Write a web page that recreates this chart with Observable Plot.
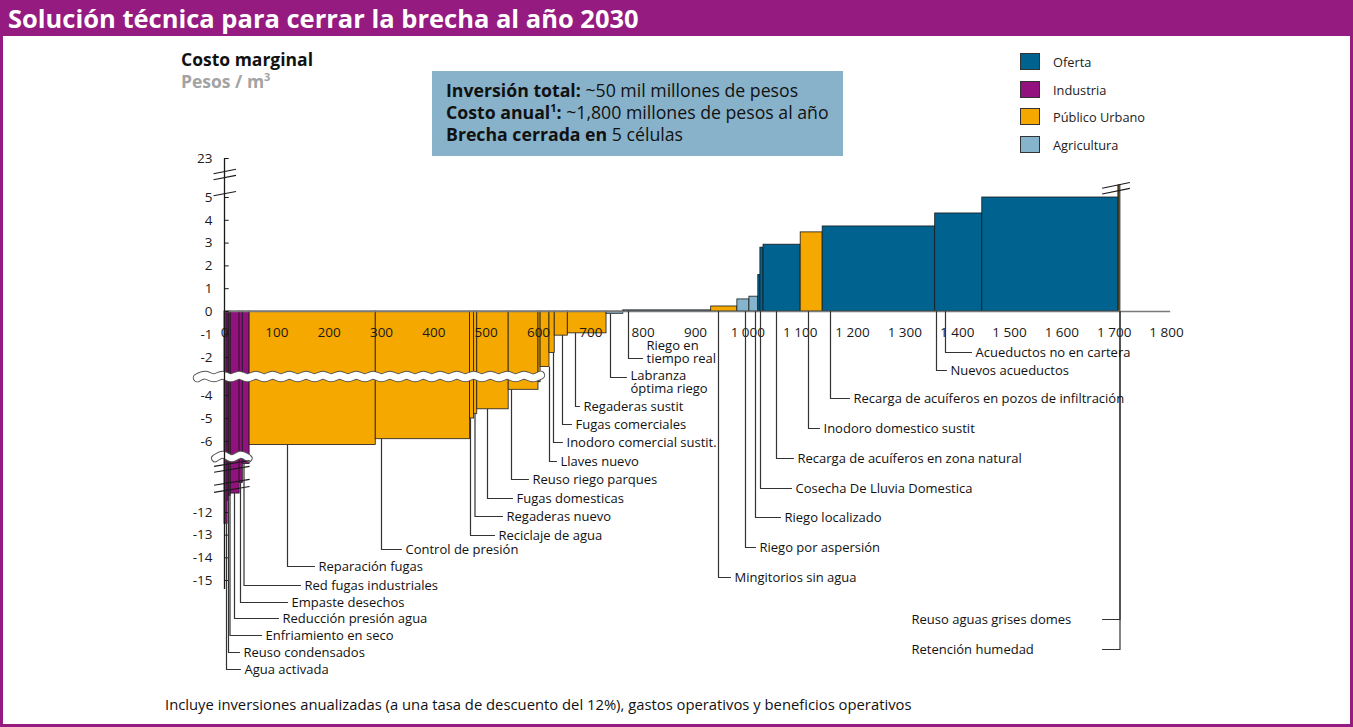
<!DOCTYPE html>
<html><head><meta charset="utf-8">
<script src="https://cdn.jsdelivr.net/npm/d3@7"></script>
<script src="https://cdn.jsdelivr.net/npm/@observablehq/plot@0.6"></script>
<style>
body{margin:0;background:#fff;font-family:"Open Sans","Noto Sans",sans-serif;}
#wrap{position:relative;width:1353px;height:727px;overflow:hidden;background:#fff;}
#frame{position:absolute;left:0;top:0;width:1353px;height:727px;box-sizing:border-box;border:3px solid #951B81;pointer-events:none;}
#title{position:absolute;left:0;top:0;width:1353px;height:36px;background:#951B81;color:#fff;font-weight:700;font-size:25.5px;line-height:36px;padding-left:8px;box-sizing:border-box;}
#plot{position:absolute;left:0;top:0;}
.t{position:absolute;white-space:nowrap;}
#info{position:absolute;left:432px;top:71px;width:411px;height:85px;background:#87B2CA;box-sizing:border-box;padding:8px 0 0 14px;font-size:17.7px;line-height:22px;color:#111;}
.lg{position:absolute;left:1020px;width:20px;height:17px;box-sizing:border-box;border:1px solid #333;}
.lgt{position:absolute;left:1053px;font-size:12.8px;color:#222;line-height:16px;}
</style></head>
<body><div id="wrap">
<div id="plot"></div>
<div id="title">Solución técnica para cerrar la brecha al año 2030</div>
<div class="t" style="left:181px;top:47px;font-size:17.5px;font-weight:700;color:#111;">Costo marginal</div>
<div class="t" style="left:181px;top:69px;font-size:17.5px;font-weight:700;color:#A3A3A3;">Pesos / m<sup style="font-size:11px;vertical-align:7px;">3</sup></div>
<div id="info"><b>Inversión total:</b> ~50 mil millones de pesos<br><b>Costo anual<sup style="font-size:11px;vertical-align:7px;line-height:0">1</sup>:</b> ~1,800 millones de pesos al año<br><b>Brecha cerrada en</b> 5 células</div>
<div id="legend"></div>
<div class="t" style="left:165px;top:694px;font-size:14.8px;color:#111;">Incluye inversiones anualizadas (a una tasa de descuento del 12%), gastos operativos y beneficios operativos</div>
<div id="frame"></div>
</div>
<script>
// ---- data ----
const sectors = ["Oferta", "Industria", "Público Urbano", "Agricultura"];
const sectorColors = ["#00628F", "#93117E", "#F5A800", "#86B4CC"];

const measures = [
  "Agua activada", "Reuso condensados", "Enfriamiento en seco", "Reducción presión agua",
  "Empaste desechos", "Red fugas industriales", "Reparación fugas", "Control de presión",
  "Reciclaje de agua", "Regaderas nuevo", "Fugas domesticas", "Reuso riego parques",
  "Llaves nuevo (a)", "Llaves nuevo", "Inodoro comercial sustit.", "Fugas comerciales",
  "Regaderas sustit", "Labranza óptima riego", "Riego en tiempo real", "Mingitorios sin agua",
  "Riego por aspersión", "Riego localizado", "Cosecha De Lluvia Domestica (a)", "Cosecha De Lluvia Domestica",
  "Recarga de acuíferos en zona natural", "Inodoro domestico sustit",
  "Recarga de acuíferos en pozos de infiltración", "Nuevos acueductos", "Acueductos no en cartera",
  "Reuso aguas grises domes", "Retención humedad"
];
const measureSector = [
  "Industria", "Industria", "Industria", "Industria", "Industria", "Industria",
  "Público Urbano", "Público Urbano", "Público Urbano", "Público Urbano", "Público Urbano", "Público Urbano",
  "Público Urbano", "Público Urbano", "Público Urbano", "Público Urbano", "Público Urbano",
  "Agricultura", "Agricultura", "Público Urbano", "Agricultura", "Agricultura",
  "Oferta", "Oferta", "Oferta", "Público Urbano", "Oferta", "Oferta", "Oferta",
  "Público Urbano", "Agricultura"
];
// potential (horizontal width, millones de m3)
const volume = [6, 3, 3, 17, 6, 13, 241, 180, 8, 6, 60, 57, 4, 17, 10, 25, 74, 32, 168, 50, 23, 17, 4, 6, 71, 42, 215, 90, 260, 2, 2];
// marginal cost (pesos / m3)
const cost = [-12.5, -11.0, -10.6, -10.4, -9.5, -7.9, -6.3, -5.9, -5.0, -4.8, -4.6, -3.7, -3.3, -2.5, -1.8, -1.05, -0.95,
  -0.1, 0.05, 0.22, 0.53, 0.65, 1.6, 2.8, 2.93, 3.47, 3.73, 4.3, 5.0, 23, 23];

const xTicks = d3.range(0, 1801, 100);
const yTicks = [23, 5, 4, 3, 2, 1, 0, -1, -2, -4, -5, -6, -12, -13, -14, -15];

// ---- annotation layout (leader x px, row px, text start px, [text row px], [leader end px]) ----
const labelLayout = [
  ["Agua activada", "Agua activada", 226, 669, 244],
  ["Reuso condensados", "Reuso condensados", 228, 652, 243],
  ["Enfriamiento en seco", "Enfriamiento en seco", 229.5, 635, 265],
  ["Reducción presión agua", "Reducción presión agua", 234, 618, 282],
  ["Empaste desechos", "Empaste desechos", 240, 602, 291],
  ["Red fugas industriales", "Red fugas industriales", 243.5, 585, 304],
  ["Reparación fugas", "Reparación fugas", 287, 566, 318],
  ["Control de presión", "Control de presión", 381, 549, 405],
  ["Reciclaje de agua", "Reciclaje de agua", 470, 535, 498],
  ["Regaderas nuevo", "Regaderas nuevo", 474.5, 516, 506],
  ["Fugas domesticas", "Fugas domesticas", 487, 498, 516],
  ["Reuso riego parques", "Reuso riego parques", 511, 479, 532],
  ["Llaves nuevo", "Llaves nuevo", 549, 461, 560],
  ["Inodoro comercial sustit.", "Inodoro comercial sustit.", 553, 442, 566],
  ["Fugas comerciales", "Fugas comerciales", 562, 424, 575],
  ["Regaderas sustit", "Regaderas sustit", 575, 406, 583],
  ["Labranza óptima riego", "Labranza\nóptima riego", 610, 377, 630, 382],
  ["Riego en tiempo real", "Riego en\ntiempo real", 628, 358, 646, 352],
  ["Mingitorios sin agua", "Mingitorios sin agua", 718, 577, 734],
  ["Riego por aspersión", "Riego por aspersión", 745, 547, 759],
  ["Riego localizado", "Riego localizado", 755, 517, 784],
  ["Cosecha De Lluvia Domestica", "Cosecha De Lluvia Domestica", 760, 488, 795],
  ["Recarga de acuíferos en zona natural", "Recarga de acuíferos en zona natural", 776, 458, 797],
  ["Inodoro domestico sustit", "Inodoro domestico sustit", 808, 428, 823],
  ["Recarga de acuíferos en pozos de infiltración", "Recarga de acuíferos en pozos de infiltración", 830, 398, 853],
  ["Nuevos acueductos", "Nuevos acueductos", 936, 370, 950],
  ["Acueductos no en cartera", "Acueductos no en cartera", 945, 352, 975],
  ["Reuso aguas grises domes", "Reuso aguas grises domes", 1119.5, 619, 911, 619, 1102],
  ["Retención humedad", "Retención humedad", 1119.5, 649, 911, 649, 1102]
];

// ---- scales ----
const xDomain = [0, 1800], xRange = [224, 1166];
// broken axis: piecewise mapping of the value onto a continuous (compressed) axis
const yBreakDomain = [-19, -15, -12, -6, -4, -2, 0, 5, 23];
const yBreakPixels = [671, 580, 512, 441, 395, 357, 311, 197, 158];
const yPiece = d3.scaleLinear(yBreakDomain, yBreakPixels);
const yAxisExtent = [671, 158];
const xInv = d3.scaleLinear(xDomain, xRange);
const topCut = 10.5; // bars above the upper axis break are cut at the break

// ---- build bar table ----
const ends = d3.cumsum(volume);
const bars = measures.map((m, i) => ({
  name: m, sector: measureSector[i], x1: ends[i] - volume[i], x2: ends[i], cost: cost[i],
  drawn: Math.min(cost[i], topCut)
}));
const byName = new Map(bars.map(b => [b.name, b]));

const leaders = [], labels = [];
labelLayout.forEach(([name, text, lx, row, tx, trow, hend], k) => {
  const b = byName.get(name);
  const X = xInv.invert(lx), Y = yPiece.invert(row);
  const start = Math.min(b.cost, 0);
  const hx = xInv.invert(hend !== undefined ? hend : tx - 4);
  leaders.push({k, x: X, y: start}, {k, x: X, y: Y}, {k, x: hx, y: Y});
  labels.push({text, x: xInv.invert(tx), y: yPiece.invert(trow !== undefined ? trow : row)});
});

// decorative axis breaks
function wave(v, x0, x1, amp) {
  const pts = [];
  for (let i = 0, x = x0; x <= x1; i++, x += 16) pts.push({x, y: v + (i % 2 ? amp : -amp)});
  return pts;
}
const breakMid = wave(-3.0, -52, 618, 0.07);
const breakLow = wave(-7.27, -18, 60, 0.15);
const slants = [
  {x1: -21, x2: 22, y1: 16.0, y2: 18.0}, {x1: -21, x2: 22, y1: 13.2, y2: 15.2}, {x1: -21, x2: 22, y1: 5.8, y2: 7.8},
  {x1: 1677, x2: 1730, y1: 9.3, y2: 11.9}, {x1: 1677, x2: 1730, y1: 6.6, y2: 9.2},
  {x1: -20, x2: 48, y1: -8.1, y2: -7.6}, {x1: -20, x2: 48, y1: -8.6, y2: -8.1},
  {x1: -20, x2: 48, y1: -9.7, y2: -9.2}, {x1: -20, x2: 48, y1: -10.3, y2: -9.8}
];

const fmt = v => d3.format(",")(v).replace(/,/g, " ");

const plot = Plot.plot({
  width: 1353, height: 727,
  marginTop: 0, marginRight: 0, marginBottom: 0, marginLeft: 0,
  style: {background: "transparent", fontFamily: "'Open Sans', 'Noto Sans', sans-serif"},
  x: {domain: xDomain, range: xRange, axis: null},
  y: {transform: yPiece, domain: yAxisExtent, range: yAxisExtent, axis: null},
  color: {domain: sectors, range: sectorColors},
  marks: [
    Plot.rect(bars, {x1: "x1", x2: "x2", y1: 0, y2: "drawn", fill: "sector", stroke: "#1a1a1a", strokeWidth: 0.8}),
    Plot.ruleY([0], {x1: 0, x2: 1808, stroke: "#7a7a7a", strokeWidth: 1.3}),
    Plot.text(xTicks, {x: d => d, y: 0, dy: 21, text: fmt, fontSize: 13.5, fill: "#1a1a1a"}),
    // break bands
    Plot.line(breakMid, {x: "x", y: "y", curve: "natural", stroke: "#555", strokeWidth: 9}),
    Plot.line(breakMid, {x: "x", y: "y", curve: "natural", stroke: "#fff", strokeWidth: 7}),
    Plot.line(breakLow, {x: "x", y: "y", curve: "natural", stroke: "#555", strokeWidth: 8}),
    Plot.line(breakLow, {x: "x", y: "y", curve: "natural", stroke: "#fff", strokeWidth: 6}),
    // y axis
    Plot.ruleX([0], {y1: -15.4, y2: 23, stroke: "#1a1a1a", strokeWidth: 1.3}),
    Plot.ruleY(yTicks, {y: d => d, x1: 0, x2: 9, stroke: "#1a1a1a", strokeWidth: 1}),
    Plot.text(yTicks, {x: 0, y: d => d, dx: -12, textAnchor: "end", text: d => String(d), fontSize: 13.5, fill: "#1a1a1a"}),
    Plot.link(slants, {x1: "x1", x2: "x2", y1: "y1", y2: "y2", stroke: "#1a1a1a", strokeWidth: 1.1}),
    // leaders and labels
    Plot.line(leaders, {x: "x", y: "y", z: "k", stroke: "#333", strokeWidth: 1.2}),
    Plot.text(labels, {x: "x", y: "y", text: "text", textAnchor: "start", fontSize: 13, lineHeight: 1.0, fill: "#111"})
  ]
});
document.getElementById("plot").appendChild(plot);

// legend
const lg = document.getElementById("legend");
const lgTops = [53, 81, 108, 136];
sectors.forEach((s, i) => {
  const sq = document.createElement("div");
  sq.className = "lg"; sq.style.top = lgTops[i] + "px"; sq.style.background = sectorColors[i];
  lg.appendChild(sq);
  const t = document.createElement("div");
  t.className = "lgt"; t.style.top = (lgTops[i] + 1) + "px"; t.textContent = s;
  lg.appendChild(t);
});
</script>
</body></html>
